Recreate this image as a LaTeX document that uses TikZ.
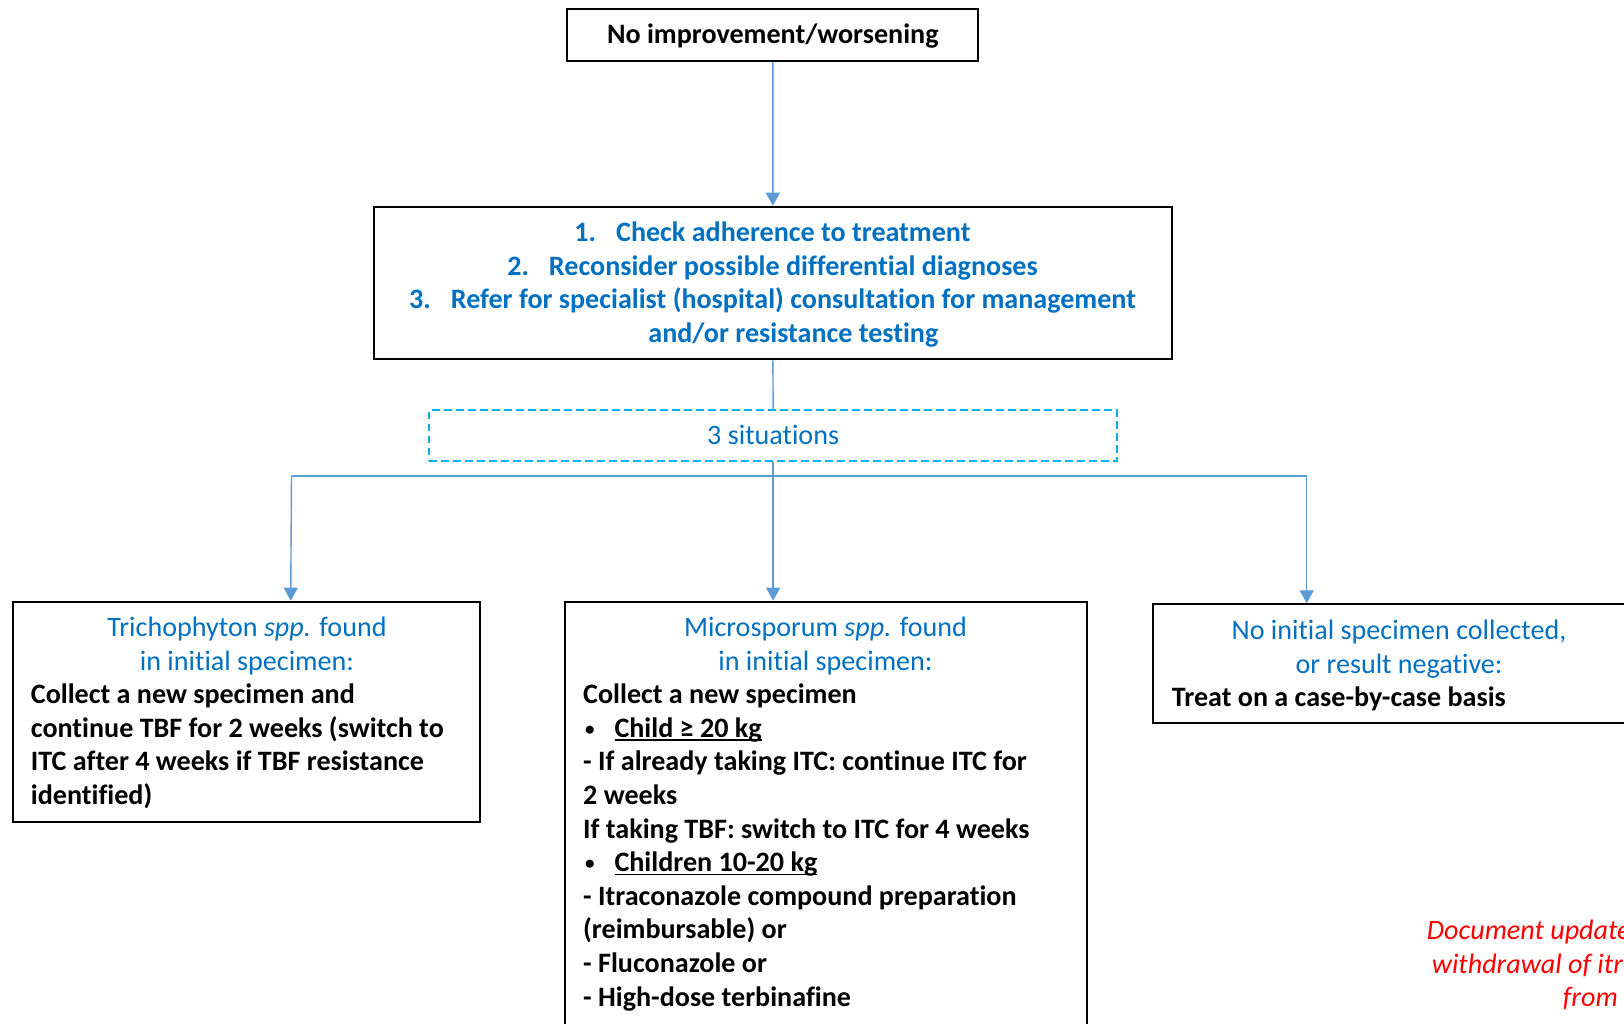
\documentclass[tikz,border=0pt]{standalone}
\usepackage{fontspec}
\setmainfont{Carlito}[Ligatures={NoCommon}]
\usetikzlibrary{arrows.meta}
\definecolor{connblue}{RGB}{91,155,213}
\definecolor{txtblue}{RGB}{0,112,192}
\definecolor{dashcyan}{RGB}{0,176,240}
\definecolor{notered}{RGB}{255,0,0}
\newcommand\ulbox[1]{\sbox0{#1}\rlap{\rule[-3.6pt]{\wd0}{1.5pt}}\usebox0}
\newcommand\smallbullet{\raisebox{2pt}{\fontsize{19}{19}\selectfont •}}
\begin{document}
\begin{tikzpicture}[x=1pt,y=-1pt,
  box/.style={draw=black,line width=2pt,inner sep=0pt},
  conn/.style={draw=connblue,line width=1.4pt,-{Triangle[width=14pt,length=13pt]}},
  plainconn/.style={draw=connblue,line width=1.4pt},
  barline/.style={draw=connblue,line width=2.3pt},
  txt/.style={inner sep=0pt,font=\fontsize{28.1}{33.6}\selectfont},
  bluetitle/.style={txt,text=txtblue,align=center,anchor=north},
  blackbody/.style={txt,font=\fontsize{28.1}{33.6}\selectfont\bfseries,align=left,anchor=north west},
  note/.style={txt,font=\fontsize{28.1}{33.6}\selectfont\itshape,text=notered,anchor=base west}
]
\useasboundingbox (0,0) rectangle (1624,1023);
\clip (0,0) rectangle (1624,1023);

% boxes
\node[box,minimum width=411pt,minimum height=51.7pt,text height=22pt,text depth=5.3pt,
      font=\fontsize{28.1}{33.6}\selectfont\bfseries] (topbox) at (772.8,35.15) {No improvement/worsening};
\node[box,minimum width=797.7pt,minimum height=152.6pt] (bigbox) at (772.85,283) {};
\node[draw=dashcyan,line width=2pt,dash pattern=on 7.5pt off 4.5pt,inner sep=0pt,
      minimum width=687.7pt,minimum height=51pt,text height=23pt,text depth=5pt,
      text=txtblue,font=\fontsize{28.1}{33.6}\selectfont] (dashbox) at (773.15,435.5) {3 situations};
\node[box,minimum width=467.3pt,minimum height=220pt] (leftbox) at (246.35,711.7) {};
\node[box,minimum width=522pt,minimum height=438.3pt] (midbox) at (826,820.85) {};
\node[box,minimum width=492.3pt,minimum height=119pt] (rightbox) at (1398.85,663.8) {};

% texts
\node[txt,font=\fontsize{28.1}{33.6}\selectfont\bfseries,text=txtblue,align=center,anchor=north] (bigtext) at (772.5,218)
 {\strut\makebox[41.7pt][l]{1.}Check adherence to treatment\\
  \makebox[41.7pt][l]{2.}Reconsider possible differential diagnoses\\
  \makebox[41.7pt][l]{3.}Refer for specialist (hospital) consultation for management\\
  \hspace*{41.7pt}and/or resistance testing};

\node[bluetitle] (lefttitle) at (247,612.98) {\strut Trichophyton \textit{spp.} found\\in initial specimen:};
\node[blackbody] (leftbody) at (30.7,679.98)
 {\strut Collect a new specimen and\\continue TBF for 2 weeks (switch to\\ITC after 4 weeks if TBF resistance\\identified)};

\node[bluetitle] (midtitle) at (825.5,612.98) {\strut Microsporum \textit{spp.} found\\in initial specimen:};
\node[blackbody] (midbody) at (583,679.98)
 {\strut Collect a new specimen\\
  \makebox[31.3pt][l]{\hspace{2pt}\smallbullet}\ulbox{Child ≥ 20 kg}\\
  - If already taking ITC: continue ITC for\\
  2 weeks\\
  If taking TBF: switch to ITC for 4 weeks\\
  \makebox[31.3pt][l]{\hspace{2pt}\smallbullet}\ulbox{Children 10-20 kg}\\
  - Itraconazole compound preparation\\
  (reimbursable) or\\
  - Fluconazole or\\
  - High-dose terbinafine};

\node[bluetitle] (righttitle) at (1399,615.98) {\strut No initial specimen collected,\\or result negative:};
\node[blackbody] (rightbody) at (1171.7,683.18) {\strut Treat on a case-by-case basis};

\node[note] (note1) at (1426.7,939.5) {Document update};
\node[note] (note2) at (1431.7,973) {withdrawal of itr};
\node[note] (note3) at (1562.7,1006.5) {from};

% connectors
\coordinate (barL) at (291.5,475.7);
\coordinate (barR) at (1306.7,475.7);
\draw[conn] (topbox) -- (bigbox);
\draw[plainconn] (bigbox.south) -- (dashbox.north);
\draw[conn] (dashbox.south) -- (dashbox.south |- midbox.north);
\draw[barline] (barL) -- (barR);
\draw[conn] (barL) -- ([xshift=-0.8pt]barL |- leftbox.north);
\draw[conn] (barR) -- (barR |- rightbox.north);
\end{tikzpicture}
\end{document}
